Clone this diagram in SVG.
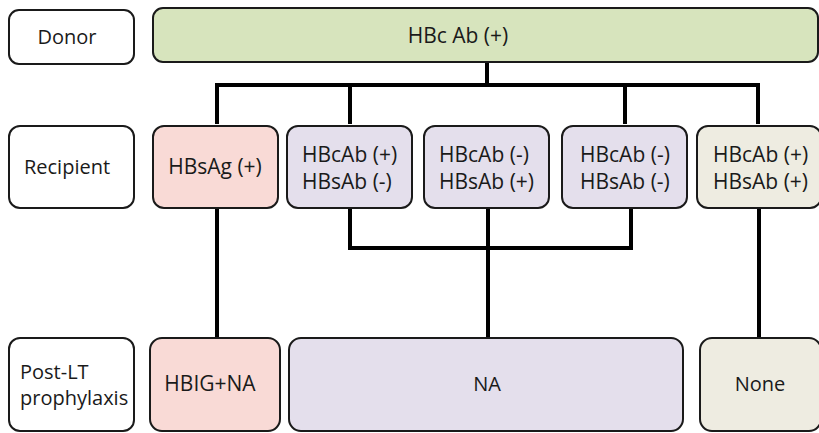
<svg xmlns="http://www.w3.org/2000/svg" width="819" height="433" viewBox="0 0 819 433">
  <style>
    .box { stroke: #1a1a1a; stroke-width: 2; }
    .label { fill: #ffffff; }
    .donor { fill: #d7e4bd; }
    .pos { fill: #f9dad6; }
    .mid { fill: #e4dfec; }
    .none { fill: #eeece1; }
    text { font-family: "Open Sans", "Noto Sans", sans-serif; font-size: 20px; fill: #1a1a1a; }
    .hb { font-size: 21px; }
    .c { text-anchor: middle; }
    .link { fill: none; stroke: #000000; stroke-width: 4; stroke-linejoin: miter; stroke-linecap: butt; }
  </style>
  <rect width="819" height="433" fill="#ffffff"/>

  <!-- connectors -->
  <g id="connectors">
    <path class="link" d="M487 62 V85 M217 124 V85 H758 V124 M350 85 V124 M625 85 V124"/>
    <path class="link" d="M350 208 V248 H631 V208 M488 208 V338"/>
    <path class="link" d="M217 208 V338"/>
    <path class="link" d="M759 208 V338"/>
  </g>

  <!-- row labels -->
  <g id="donor-label">
    <rect class="box label" x="9" y="10" width="125" height="54" rx="10"/>
    <text class="c" x="67" y="44">Donor</text>
  </g>
  <g id="recipient-label">
    <rect class="box label" x="9" y="126" width="125" height="82" rx="11"/>
    <text class="c" x="67" y="174">Recipient</text>
  </g>
  <g id="prophylaxis-label">
    <rect class="box label" x="9" y="338" width="125" height="93" rx="11"/>
    <text x="20" y="379">Post-LT</text>
    <text x="20" y="405">prophylaxis</text>
  </g>

  <!-- donor -->
  <g id="donor">
    <rect class="box donor" x="153" y="8" width="665" height="54" rx="10"/>
    <text class="c hb" x="458" y="43">HBc Ab (+)</text>
  </g>

  <!-- recipients -->
  <g id="r-hbsag">
    <rect class="box pos" x="153" y="126" width="125" height="82" rx="11"/>
    <text class="c hb" x="215" y="174">HBsAg (+)</text>
  </g>
  <g id="r-c-pos-s-neg">
    <rect class="box mid" x="287" y="126" width="125" height="82" rx="11"/>
    <text class="hb" x="302" y="162">HBcAb (+)</text>
    <text class="hb" x="302" y="189">HBsAb (-)</text>
  </g>
  <g id="r-c-neg-s-pos">
    <rect class="box mid" x="424" y="126" width="125" height="82" rx="11"/>
    <text class="hb" x="439" y="162">HBcAb (-)</text>
    <text class="hb" x="439" y="189">HBsAb (+)</text>
  </g>
  <g id="r-c-neg-s-neg">
    <rect class="box mid" x="562" y="126" width="125" height="82" rx="11"/>
    <text class="hb" x="580" y="162">HBcAb (-)</text>
    <text class="hb" x="580" y="189">HBsAb (-)</text>
  </g>
  <g id="r-c-pos-s-pos">
    <rect class="box none" x="697" y="126" width="124" height="82" rx="11"/>
    <text class="hb" x="713" y="162">HBcAb (+)</text>
    <text class="hb" x="713" y="189">HBsAb (+)</text>
  </g>

  <!-- prophylaxis -->
  <g id="p-hbig-na">
    <rect class="box pos" x="150" y="338" width="130" height="93" rx="12"/>
    <text class="c hb" x="210" y="391">HBIG+NA</text>
  </g>
  <g id="p-na">
    <rect class="box mid" x="289" y="338" width="394" height="93" rx="12"/>
    <text class="c" x="487" y="391">NA</text>
  </g>
  <g id="p-none">
    <rect class="box none" x="700" y="338" width="121" height="93" rx="12"/>
    <text class="c" x="760" y="391">None</text>
  </g>
</svg>
